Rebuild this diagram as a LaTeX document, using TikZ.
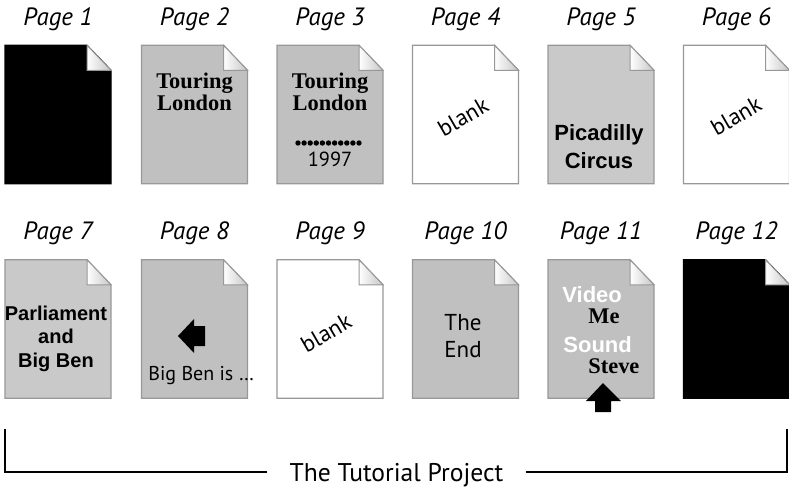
\documentclass[tikz,border=0pt]{standalone}
\usepackage{fontspec}
\setmainfont{Liberation Serif}
\setsansfont{PT Sans}
\newfontfamily\arialfont{Liberation Sans}
\usetikzlibrary{positioning}
\definecolor{pagegray}{HTML}{C0C0C0}
\definecolor{pagelight}{HTML}{C9C9C9}
\definecolor{pageedge}{HTML}{989898}
\tikzset{
  pageframe/.style={minimum width=53pt, minimum height=69.25pt, inner sep=0pt, outer sep=0pt},
  pagebox/.style={line width=0.6pt},
  foldbox/.style={draw=pageedge, line width=0.5pt, left color=white, right color=gray!45},
  pagetitle/.style={font=\sffamily\itshape\fontsize{12.5}{14}\selectfont, anchor=base},
  blanktext/.style={font=\sffamily\fontsize{11.5}{13}\selectfont, rotate=30},
  serifbold/.style={font=\rmfamily\bfseries\fontsize{11.2}{11}\selectfont, align=center, anchor=base, inner sep=0pt},
  boldsans/.style={font=\arialfont\bfseries\fontsize{11}{13.75}\selectfont, align=center, anchor=base, inner sep=0pt},
  plainsans/.style={font=\sffamily\fontsize{11.5}{13.5}\selectfont, align=center, anchor=base, inner sep=0pt},
  tutlabel/.style={font=\sffamily\fontsize{12.8}{14}\selectfont, text depth=0pt, inner xsep=11pt},
  bracket/.style={line width=1pt}
}
\begin{document}
\begin{tikzpicture}[x=0.5pt,y=-0.5pt]
\useasboundingbox (0,0) rectangle (789,488);
\foreach \n/\cx/\cy/\col/\edge in {1/58/114.5/black/black, 2/194.5/114.5/pagegray/pageedge,
    3/330/114.5/pagegray/pageedge, 4/465.5/114.5/white/pageedge, 5/601/114.5/pagelight/pageedge,
    6/736.5/114.5/white/pageedge, 7/58/329/pagelight/pageedge, 8/194.5/329/pagegray/pageedge,
    9/330/329/white/pageedge, 10/465.5/329/pagegray/pageedge, 11/601/329/pagegray/pageedge,
    12/736.5/329/black/black}{
  \node[pageframe] (p\n) at (\cx,\cy) {};
  \draw[pagebox, draw=\edge, fill=\col] (p\n.south west) -- (p\n.north west) -- ([xshift=-12pt]p\n.north east)
    -- ([yshift=-12.5pt]p\n.north east) -- (p\n.south east) -- cycle;
  \draw[foldbox] ([xshift=-12pt]p\n.north east) -- ([xshift=-12pt,yshift=-12.5pt]p\n.north east)
    -- ([yshift=-12.5pt]p\n.north east) -- cycle;
  \node[pagetitle] (t\n) at ([yshift=10pt]p\n.north) {Page \n};
}

\node[serifbold] (tour2) at (194.5,110) {Touring\\London};
\node[serifbold] (tour3) at (330,110) {Touring\\London};
\foreach \i in {0,...,10}
  \fill (298+6.1*\i,143) circle (1.35pt);
\node[plainsans, font=\sffamily\fontsize{10.2}{12}\selectfont] (year) at (330,166) {1997};
\node[blanktext] (blank4) at (463,117) {blank};
\node[boldsans] (pica) at (599,168) {Picadilly\\Circus};
\node[blanktext] (blank6) at (736,116) {blank};

\node[boldsans, font=\arialfont\bfseries\fontsize{10}{11.75}\selectfont] (parl) at (56,367) {Parliament\\and\\Big Ben};
\fill (178,336) -- (194,319) -- (194,326) -- (205,326) -- (205,346) -- (194,346) -- (194,353) -- cycle;
\node[plainsans, anchor=base west, font=\sffamily\fontsize{10}{12}\selectfont] (bigben) at (148,380) {Big Ben is …};
\node[blanktext] (blank9) at (326,333) {blank};
\node[plainsans] (theend) at (463,357) {The\\End};
\node[boldsans, anchor=base west, text=white] (video) at (562,302) {Video};
\node[serifbold, anchor=base west] (me) at (588,323) {Me};
\node[boldsans, anchor=base west, text=white] (sound) at (563,352) {Sound};
\node[serifbold, anchor=base west] (steve) at (588,373) {Steve};
\fill (603,383) -- (621,401) -- (611,401) -- (611,412) -- (595,412) -- (595,401) -- (586,401) -- cycle;

\node[tutlabel] (tut) at (396.5,472) {The Tutorial Project};
\coordinate (lefttop) at (5,429);
\coordinate (righttop) at (787,429);
\draw[bracket] (tut.west) -| (lefttop);
\draw[bracket] (tut.east) -| (righttop);
\end{tikzpicture}
\end{document}
